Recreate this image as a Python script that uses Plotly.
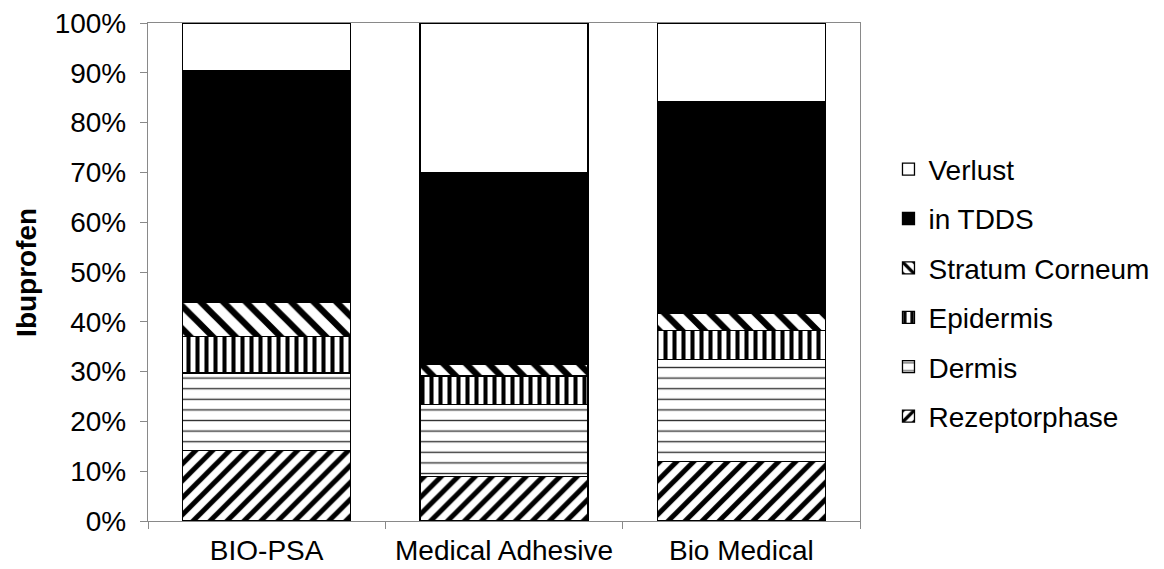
import plotly.graph_objects as go

categories = ["BIO-PSA", "Medical Adhesive", "Bio Medical"]
rezeptorphase = [14.2, 8.9, 11.9]
dermis = [15.5, 14.5, 20.6]
epidermis = [7.4, 5.7, 5.7]
stratum_corneum = [6.8, 2.3, 3.5]
in_tdds = [46.6, 38.5, 42.6]
verlust = [9.5, 30.1, 15.7]
y_ticks = [0, 10, 20, 30, 40, 50, 60, 70, 80, 90, 100]
y_tick_labels = [f"{v}%" for v in y_ticks]
y_title = "Ibuprofen"

series = [
    ("Rezeptorphase", rezeptorphase, dict(shape="/", size=12, solidity=0.42, fgcolor="black")),
    ("Dermis", dermis, dict(shape="-", size=10.6, solidity=0.13, fgcolor="#333333")),
    ("Epidermis", epidermis, dict(shape="|", size=9, solidity=0.45, fgcolor="black")),
    ("Stratum Corneum", stratum_corneum, dict(shape="\\", size=16, solidity=0.4, fgcolor="black")),
    ("in TDDS", in_tdds, None),
    ("Verlust", verlust, None),
]

fig = go.Figure()
n = len(series)
for i, (name, vals, pat) in enumerate(series):
    marker = dict(line=dict(color="black", width=1.3))
    if name == "in TDDS":
        marker["color"] = "black"
    else:
        marker["color"] = "white"
    if pat is not None:
        p = dict(pat)
        p.update(bgcolor="white", fgopacity=1, fillmode="replace")
        marker["pattern"] = p
    fig.add_trace(go.Bar(x=categories, y=vals, name=name, marker=marker,
                         legendgroup=name, legendrank=n - i))

font_family = "Liberation Sans, Arial, sans-serif"
fig.update_layout(
    barmode="stack",
    bargap=0.293,
    width=1156, height=561,
    margin=dict(l=140, r=304, t=15, b=48, autoexpand=False),
    paper_bgcolor="white", plot_bgcolor="white",
    font=dict(family=font_family, size=28, color="black"),
    showlegend=True,
    legend=dict(traceorder="grouped", tracegroupgap=10,
                x=1.04, xanchor="left", y=0.458, yanchor="middle",
                font=dict(size=28), itemwidth=30),
    xaxis=dict(showline=True, linecolor="#898989", linewidth=1.3, mirror=True,
               ticks="outside", ticklen=7, tickcolor="#898989", tickwidth=1.3,
               tickson="boundaries", showgrid=False, automargin=False,
               tickangle=0, ticklabeloverflow="allow", ticklabelstandoff=4),
    yaxis=dict(range=[0, 100], tickvals=y_ticks, ticktext=y_tick_labels,
               showline=True, linecolor="#898989", linewidth=1.3, mirror=True,
               ticks="outside", ticklen=7, tickcolor="#898989", tickwidth=1.3,
               showgrid=False, ticklabelstandoff=8, automargin=False,
               ticklabeloverflow="allow"),
    annotations=[dict(text=f"<b>{y_title}</b>", xref="paper", yref="paper",
                      x=-0.1715, y=0.5, xanchor="center", yanchor="middle",
                      textangle=-90, showarrow=False,
                      font=dict(size=28, family=font_family, color="black"))],
)

fig.write_html("out.html")
